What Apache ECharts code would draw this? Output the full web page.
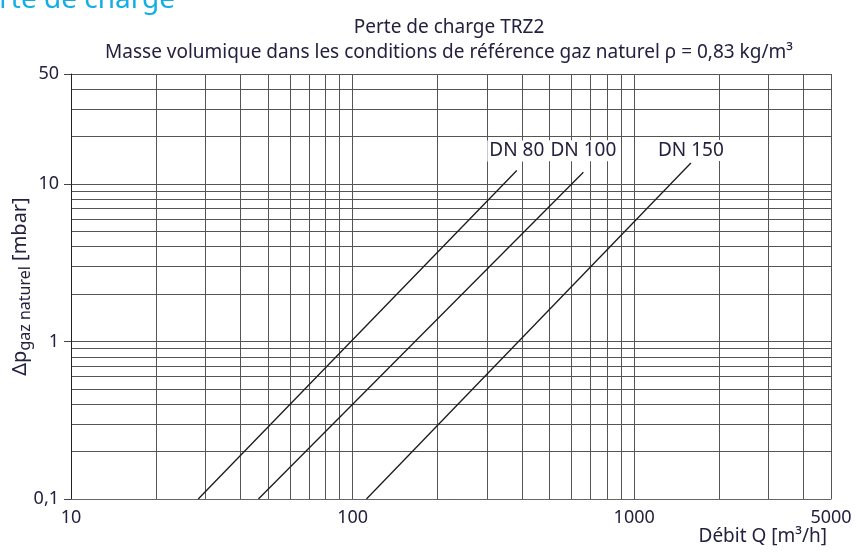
<!DOCTYPE html>
<html>
<head>
<meta charset="utf-8">
<script src="https://cdn.jsdelivr.net/npm/echarts@6/dist/echarts.min.js"></script>
<style>
  html, body { margin: 0; padding: 0; background: #fff; }
  #chart { width: 856px; height: 556px; }
</style>
</head>
<body>
<div id="chart"></div>
<script>
// debit Q [m3/h] -> perte de charge [mbar] (end points of each straight line)
var dn80 = [[28.3, 0.1], [383, 12.2]];
var dn100 = [[46.3, 0.1], [660, 11.9]];
var dn150 = [[112, 0.1], [1590, 13.6]];
var seriesNames = ['DN 80', 'DN 100', 'DN 150'];

// grid lines and labels
var xGrid = [10, 20, 30, 40, 50, 60, 70, 80, 90, 100, 200, 300, 400, 500, 600, 700, 800, 900,
    1000, 2000, 3000, 4000, 5000];
var xLabels = [10, 100, 1000, 5000];
var yGrid = [0.1, 0.2, 0.3, 0.4, 0.5, 0.6, 0.7, 0.8, 0.9, 1, 2, 3, 4, 5, 6, 7, 8, 9,
    10, 20, 30, 40, 50];
var yLabels = [0.1, 1, 10, 50];

(function () {
    var txt = '#23213f';
    var gridCol = '#555';
    var font = 'Noto Sans';
    var chart = echarts.init(document.getElementById('chart'), null, {renderer: 'canvas'});

    var fmt = function (v) {
        return String(v).replace('.', ',');
    };

    // label sits above the last point of each line (gap so that all three line up)
    var mkSeries = function (name, pts, gap) {
        var data = pts.map(function (p, i) {
            if (i === pts.length - 1) {
                return {
                    value: p,
                    label: {
                        show: true, position: 'top', distance: gap,
                        formatter: name, color: txt, fontSize: 19, fontFamily: font,
                        backgroundColor: '#fff', padding: [1, 2]
                    }
                };
            }
            return p;
        });
        return {
            name: name,
            type: 'line',
            data: data,
            symbol: 'circle',
            symbolSize: 0,
            showSymbol: true,
            silent: true,
            lineStyle: {color: '#1a1a1a', width: 1.3},
            labelLayout: {hideOverlap: false},
            z: 3
        };
    };

    var option = {
        backgroundColor: '#fff',
        animation: false,
        textStyle: {fontFamily: font},
        title: {
            text: 'Perte de charge TRZ2\nMasse volumique dans les conditions de référence gaz naturel ρ = 0,83 kg/m³',
            left: 444,
            top: 10,
            textAlign: 'center',
            textStyle: {color: txt, fontSize: 19, fontWeight: 'normal', lineHeight: 25, fontFamily: font}
        },
        graphic: [
            {
                type: 'text', right: 681, top: -14,
                style: {text: 'Perte de charge', fill: '#13aee6', fontSize: 28, fontFamily: font}
            },
            {
                type: 'text', right: 29, top: 527,
                style: {text: 'Débit Q [m³/h]', fill: txt, fontSize: 19, fontFamily: font}
            }
        ],
        grid: {left: 71, right: 25, top: 74, bottom: 57, outerBoundsMode: 'none', containLabel: false},
        xAxis: {
            type: 'log',
            logBase: 10,
            min: 10,
            max: 5000,
            axisLine: {show: true, lineStyle: {color: '#666', width: 1}},
            axisTick: {show: false, customValues: xGrid},
            axisLabel: {customValues: xLabels, formatter: fmt, color: txt, fontSize: 18, margin: 10, fontFamily: font},
            splitLine: {show: true, lineStyle: {color: gridCol, width: 1}}
        },
        yAxis: [
            {
                type: 'log',
                logBase: 10,
                min: 0.1,
                max: 50,
                name: '{d|Δp}{s|gaz naturel}{d| [mbar]}',
                nameLocation: 'middle',
                nameRotate: 90,
                nameGap: 38,
                nameMoveOverlap: false,
                nameTextStyle: {
                    color: txt,
                    rich: {
                        d: {fontSize: 20, color: txt, fontFamily: font, lineHeight: 26, verticalAlign: 'middle'},
                        s: {fontSize: 16, color: txt, fontFamily: font, lineHeight: 18, verticalAlign: 'bottom'}
                    }
                },
                axisLine: {show: true, lineStyle: {color: '#222', width: 1}},
                axisTick: {show: false, customValues: yGrid},
                axisLabel: {customValues: yLabels, formatter: fmt, color: txt, fontSize: 18, margin: 12, fontFamily: font},
                splitLine: {show: true, lineStyle: {color: gridCol, width: 1}}
            },
            {
                // short outward ticks at the labelled values
                type: 'log',
                logBase: 10,
                min: 0.1,
                max: 50,
                position: 'left',
                axisLine: {show: false},
                axisTick: {show: true, customValues: yLabels, length: 7, lineStyle: {color: '#444'}},
                axisLabel: {show: false},
                splitLine: {show: false}
            }
        ],
        series: [
            mkSeries(seriesNames[0], dn80, 9),
            mkSeries(seriesNames[1], dn100, 11),
            mkSeries(seriesNames[2], dn150, 2)
        ]
    };

    chart.setOption(option);
})();
</script>
</body>
</html>
